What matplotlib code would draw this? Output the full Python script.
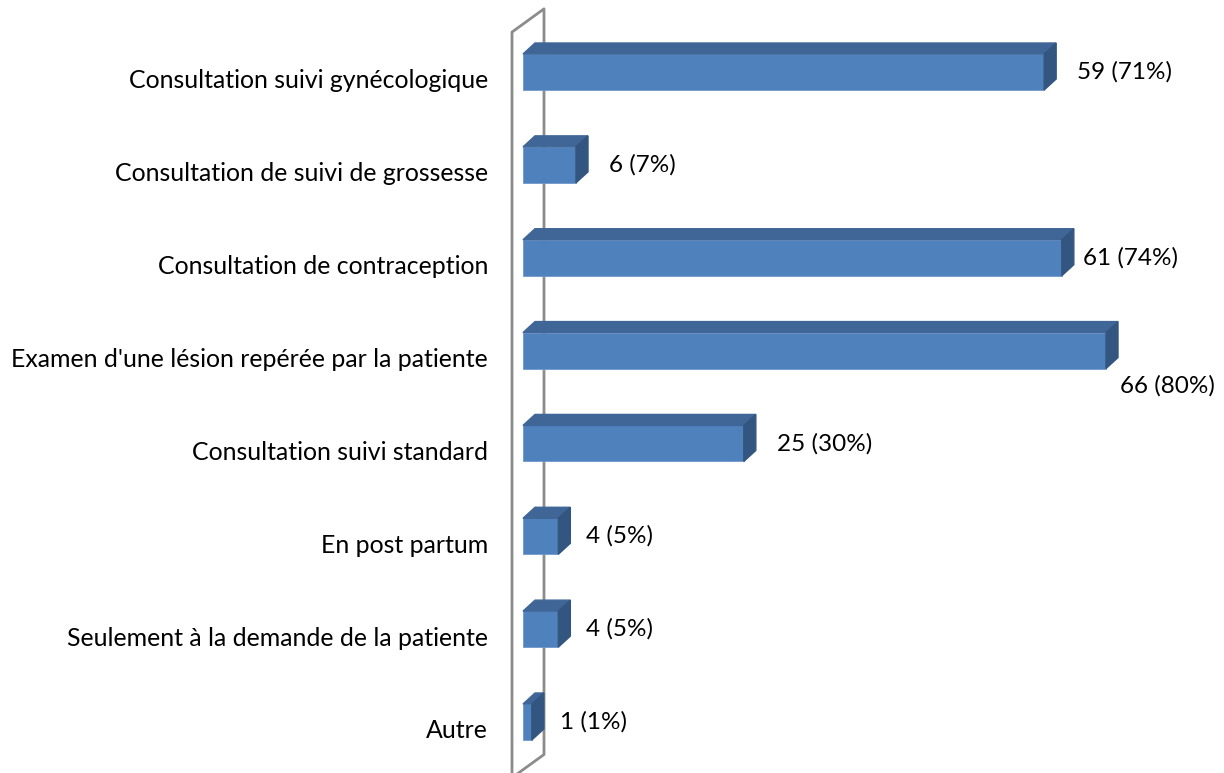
import matplotlib.pyplot as plt
from matplotlib.patches import Polygon

categories = ["Consultation suivi gynécologique",
              "Consultation de suivi de grossesse",
              "Consultation de contraception",
              "Examen d'une lésion repérée par la patiente",
              "Consultation suivi standard",
              "En post partum",
              "Seulement à la demande de la patiente",
              "Autre"]
counts = [59, 6, 61, 66, 25, 4, 4, 1]
percents = [71, 7, 74, 80, 30, 5, 5, 1]

plt.rcParams['font.family'] = ['Lato', 'DejaVu Sans']

fig = plt.figure(figsize=(12.24, 7.73), dpi=100)
W, H = 1224, 773
# axes: value 0 at x=523px, 66 at x=1106px; category 0 at y=72px, 7 at y=722px
ax = fig.add_axes([523 / W, 1 - 722 / H, (1106 - 523) / W, (722 - 72) / H])
ax.set_xlim(0, 66)
ax.set_ylim(7, 0)
ax.axis('off')

px_x = 66 / (1106 - 523)      # data units per pixel (x)
px_y = 7 / (722 - 72)         # data units per pixel (y)
dx, dy = 12 * px_x, 11 * px_y  # 3d depth
h = 36 * px_y

front = '#4F81BD'
top = '#3F6697'
side = '#335680'

# wall (back plane at value 0)
wx0, wx1 = -11 * px_x, 21 * px_x
ax.plot([wx0, wx0, wx1, wx1, wx0], [7.8, -0.43, -0.68, 7.35, 7.6],
        color='#8C8C8C', lw=2, clip_on=False, zorder=1)

for i, v in enumerate(counts):
    y0, y1 = i - h / 2, i + h / 2
    ax.barh(i, v, height=h, color=front, edgecolor='#6E98CC', lw=0.6,
            zorder=3, clip_on=False)
    ax.add_patch(Polygon([(0, y0), (v, y0), (v + dx, y0 - dy), (dx, y0 - dy)],
                         closed=True, color=top, zorder=3, clip_on=False))
    ax.add_patch(Polygon([(v, y0), (v + dx, y0 - dy), (v + dx, y1 - dy), (v, y1)],
                         closed=True, color=side, zorder=3, clip_on=False))

# value labels (pixel offsets from bar end)
lab_off = [(33, 0, 'left'), (33, 0, 'left'), (21, 0, 'left'), (109, -35, 'right'),
           (33, 0, 'left'), (28, 0, 'left'), (28, 0, 'left'), (28, 0, 'left')]
for i, (c, p) in enumerate(zip(counts, percents)):
    ox, oy, ha = lab_off[i]
    ax.annotate(f"{c} ({p}%)", xy=(c, i), xytext=(ox, oy), textcoords='offset pixels',
                ha=ha, va='center', fontsize=17.5, color='black', annotation_clip=False)

for i, cat in enumerate(categories):
    ax.annotate(cat, xy=(0, i), xytext=(-35, -9), textcoords='offset pixels',
                ha='right', va='center', fontsize=17.9, color='black', annotation_clip=False)

fig.savefig('out.png', dpi=100)
